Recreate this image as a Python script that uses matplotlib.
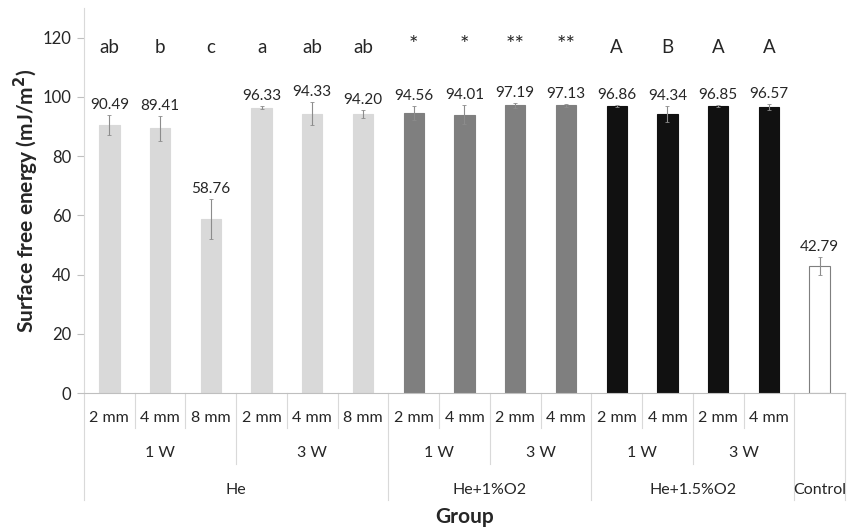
import matplotlib
matplotlib.use("Agg")
import matplotlib.pyplot as plt
import matplotlib.transforms as mtransforms

plt.rcParams['font.family'] = ['Lato', 'DejaVu Sans']

distances = ['2 mm', '4 mm', '8 mm', '2 mm', '4 mm', '8 mm', '2 mm', '4 mm',
             '2 mm', '4 mm', '2 mm', '4 mm', '2 mm', '4 mm', '']
powers = [('1 W', 0, 2), ('3 W', 3, 5), ('1 W', 6, 7), ('3 W', 8, 9),
          ('1 W', 10, 11), ('3 W', 12, 13)]
gases = [('He', 0, 5), ('He+1%O2', 6, 9), ('He+1.5%O2', 10, 13), ('Control', 14, 14)]
values = [90.49, 89.41, 58.76, 96.33, 94.33, 94.20, 94.56, 94.01, 97.19, 97.13,
          96.86, 94.34, 96.85, 96.57, 42.79]
errors = [3.4, 4.2, 6.8, 0.5, 4.0, 1.5, 2.4, 3.2, 0.8, 0.6, 0.4, 2.7, 0.4, 1.0, 3.1]
letters = ['ab', 'b', 'c', 'a', 'ab', 'ab', '*', '*', '**', '**', 'A', 'B', 'A', 'A', '']
colors = ['#d9d9d9'] * 6 + ['#7f7f7f'] * 4 + ['#111111'] * 4 + ['#ffffff']
edges = ['#d9d9d9'] * 6 + ['#7f7f7f'] * 4 + ['#111111'] * 4 + ['#7f7f7f']

fig = plt.figure(figsize=(8.61, 5.28), dpi=100)
ax = fig.add_axes([84 / 861, 1 - 393 / 528, (845 - 84) / 861, 385 / 528])

x = list(range(len(values)))
ax.bar(x, values, width=0.4, color=colors, edgecolor=edges, linewidth=0.8, zorder=2)
ax.errorbar(x, values, yerr=errors, fmt='none', ecolor='#8c8c8c', elinewidth=0.8,
            capsize=1.5, capthick=0.6, zorder=3)

txt = '#262626'
for xi, v, e in zip(x, values, errors):
    ax.annotate(f'{v:.2f}', (xi, v + e), xytext=(0, 2), textcoords='offset points',
                ha='center', va='bottom', fontsize=11, color=txt)
for xi, t in zip(x, letters):
    if '*' in t:
        ax.text(xi, 117.5, t, ha='center', va='center', fontsize=16, color=txt)
    else:
        ax.text(xi, 116.5, t, ha='center', va='center', fontsize=13.5, color=txt)

ax.set_xlim(-0.5, len(values) - 0.5)
ax.set_ylim(0, 130)
ax.set_yticks([0, 20, 40, 60, 80, 100, 120])
ax.tick_params(axis='y', labelsize=12, colors='#bfbfbf', labelcolor=txt,
               length=5, width=0.8, pad=4)
ax.set_xticks([])
for s in ['top', 'right']:
    ax.spines[s].set_visible(False)
ax.spines['left'].set_color('#d9d9d9')
ax.spines['bottom'].set_color('#bfbfbf')
ax.spines['bottom'].set_linewidth(0.8)

ax.set_ylabel('Surface free energy (mJ/m$^\\mathbf{2}$)', fontsize=15, fontweight='bold',
              color=txt, labelpad=1)

trans = mtransforms.blended_transform_factory(ax.transData, ax.transAxes)
lc = '#d9d9d9'
y_mm, y_w, y_g = -0.091, -0.184, -0.278

def vline(xp, ybot):
    ax.plot([xp, xp], [0, ybot], transform=trans, color=lc, lw=0.8, clip_on=False)

for i, d in enumerate(distances):
    ax.text(i, -0.065, d, transform=trans, ha='center', va='center', fontsize=11.5,
            color=txt)

bounds_mm = set(i - 0.5 for i in range(len(values) + 1))
bounds_w = set()
for lab, a, b in powers:
    ax.text((a + b) / 2, -0.156, lab, transform=trans, ha='center', va='center',
            fontsize=11.5, color=txt)
    bounds_w.update([a - 0.5, b + 0.5])
bounds_g = set()
for lab, a, b in gases:
    ax.text((a + b) / 2, -0.252, lab, transform=trans, ha='center', va='center',
            fontsize=11.5, color=txt)
    bounds_g.update([a - 0.5, b + 0.5])

for xp in bounds_mm:
    if xp in bounds_g:
        vline(xp, y_g)
    elif xp in bounds_w:
        vline(xp, y_w)
    else:
        vline(xp, y_mm)

ax.text(0.5, -0.322, 'Group', transform=ax.transAxes, ha='center', va='center',
        fontsize=15, fontweight='bold', color=txt)

fig.savefig('out.png', dpi=100)
